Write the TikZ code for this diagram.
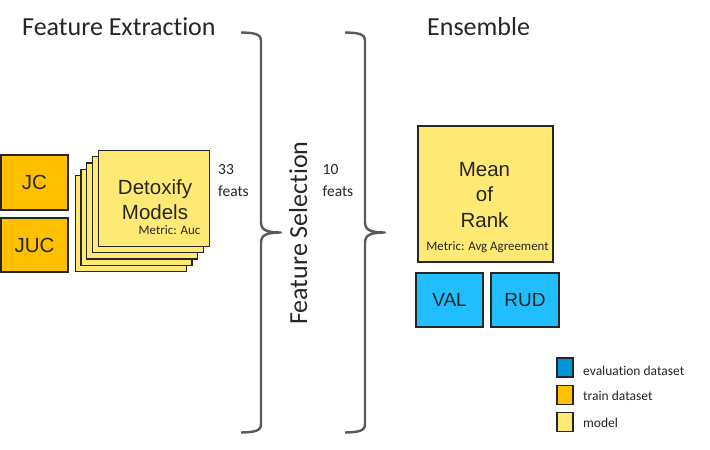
\documentclass[tikz,border=0pt]{standalone}
\usepackage{fontspec}
\setmainfont{Carlito}[RawFeature={-liga;-clig;-dlig}]
\newfontfamily\arialf{Liberation Sans}
\definecolor{txt}{HTML}{262626}
\definecolor{orangeF}{HTML}{FFC000}
\definecolor{yellowF}{HTML}{FFE975}
\definecolor{blueF}{HTML}{21BEFF}
\definecolor{blueL}{HTML}{0096D8}
\definecolor{brk}{HTML}{5A5A5A}
\begin{document}
\begin{tikzpicture}[x=1pt,y=-1pt,
  box/.style={draw=txt, line width=1.2pt, inner sep=0pt, text=txt},
  trainbox/.style={box, fill=orangeF, minimum width=67pt, minimum height=55pt, font=\arialf\fontsize{20.5}{24}\selectfont},
  evalbox/.style={box, fill=blueF, minimum width=67pt, minimum height=54pt, font=\arialf\fontsize{19}{23}\selectfont},
  modelbox/.style={box, fill=yellowF},
  legbox/.style={box, minimum width=16pt, minimum height=19pt},
  lbl/.style={inner sep=0pt, text=txt},
  title/.style={lbl, font=\fontsize{26}{31}\selectfont},
  bigtxt/.style={lbl, anchor=base, font=\arialf\fontsize{20.5}{24}\selectfont},
  small/.style={lbl, font=\fontsize{15.5}{18}\selectfont},
  metric/.style={lbl, font=\fontsize{12.9}{15}\selectfont},
  legtxt/.style={lbl, anchor=base west, font=\fontsize{13.5}{16}\selectfont},
  bracket/.style={draw=brk, line width=2.4pt, line join=round}
]
\fill[white] (0,0) rectangle (710,450);
\useasboundingbox (0,0) rectangle (710,450);

% titles
\node[title, anchor=base west] (t1) at (22,35) {Feature Extraction};
\node[title, anchor=base west] (t2) at (427,35) {Ensemble};
\node[title, anchor=base west, rotate=90] (t3) at (307,325) {Feature Selection};

% train datasets
\node[trainbox] (jc) at (34.5,182.5) {JC};
\node[trainbox, minimum height=54pt] (juc) at (34.5,245) {JUC};

% stack of models
\foreach \i in {4,3,2,1}
  \node[modelbox, minimum width=111pt, minimum height=96pt] (stack\i) at ({153.8-5.8*\i},{198.3+6.3*\i}) {};
\node[modelbox, minimum width=111pt, minimum height=96pt] (detox) at (153.8,198.3) {};
\node[bigtxt] (detoxA) at (155,194) {Detoxify};
\node[bigtxt] (detoxB) at (155,219) {Models};
\node[metric, anchor=base west] (detoxM) at (138.5,234) {Metric: Auc};

% feats labels
\node[small, anchor=base west] (f33a) at (218,174.5) {33};
\node[small, anchor=base west] (f33b) at (218,196) {feats};
\node[small, anchor=base west] (f10a) at (322.5,174.5) {10};
\node[small, anchor=base west] (f10b) at (322.5,196) {feats};

% brackets
\draw[bracket] (241,32.5) .. controls (255,32.8) and (261,34) .. (261,41)
  -- (261,222) .. controls (261,230) and (266,232.3) .. (281,232.5)
  .. controls (266,232.7) and (261,235) .. (261,243)
  -- (261,424) .. controls (261,431) and (255,432.2) .. (241,432.5);
\draw[bracket] (345,32.5) .. controls (359,32.8) and (365,34) .. (365,41)
  -- (365,222) .. controls (365,230) and (370,232.3) .. (385,232.5)
  .. controls (370,232.7) and (365,235) .. (365,243)
  -- (365,424) .. controls (365,431) and (359,432.2) .. (345,432.5);

% ensemble
\node[modelbox, minimum width=135pt, minimum height=136pt] (mean) at (485.5,194) {};
\node[bigtxt] (meanA) at (484.5,176) {Mean};
\node[bigtxt] (meanB) at (484.5,201) {of};
\node[bigtxt] (meanC) at (484.5,227) {Rank};
\node[metric, anchor=base] (meanM) at (487.5,250.5) {Metric: Avg Agreement};

\node[evalbox] (val) at (449.5,300) {VAL};
\node[evalbox, minimum width=68pt] (rud) at (525,300) {RUD};

% legend
\node[legbox, fill=blueL] (lg1) at (565,367.5) {};
\node[legbox, fill=orangeF] (lg2) at (565,395) {};
\node[legbox, fill=yellowF] (lg3) at (565,422) {};
\node[legtxt] (lt1) at (583,375) {evaluation dataset};
\node[legtxt] (lt2) at (583,400.5) {train dataset};
\node[legtxt] (lt3) at (583,427) {model};
\end{tikzpicture}
\end{document}
